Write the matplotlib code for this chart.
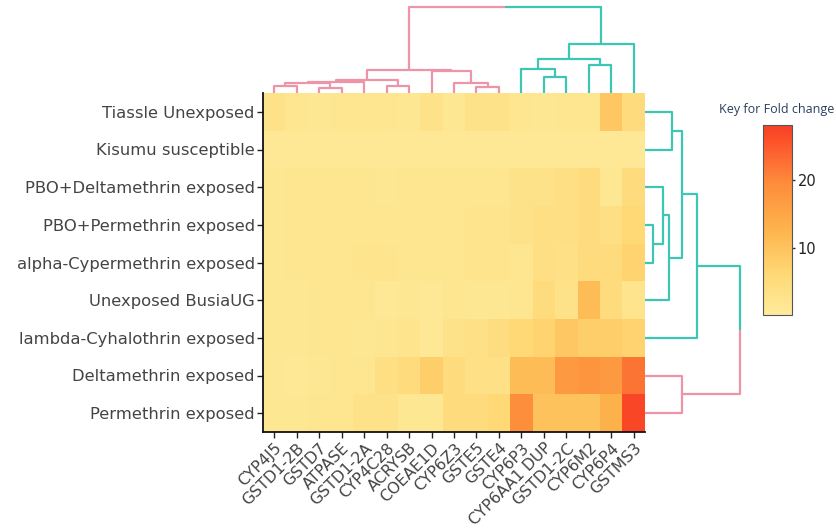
import numpy as np
import matplotlib
matplotlib.use('Agg')
import matplotlib.pyplot as plt
from matplotlib.colors import LinearSegmentedColormap

# Data
genes = ['CYP4J5', 'GSTD1-2B', 'GSTD7', 'ATPASE', 'GSTD1-2A', 'CYP4C28', 'ACRYSB',
         'COEAE1D', 'CYP6Z3', 'GSTE5', 'GSTE4', 'CYP6P3', 'CYP6AA1 DUP', 'GSTD1-2C',
         'CYP6M2', 'CYP6P4', 'GSTMS3']
samples = ['Tiassle Unexposed', 'Kisumu susceptible', 'PBO+Deltamethrin exposed',
           'PBO+Permethrin exposed', 'alpha-Cypermethrin exposed', 'Unexposed BusiaUG',
           'lambda-Cyhalothrin exposed', 'Deltamethrin exposed', 'Permethrin exposed']

tiassle   = [3.0, 2.0, 1.5, 2.0, 2.0, 2.0, 1.5, 3.0, 1.5, 3.0, 3.0, 2.0, 1.5, 2.0, 2.0, 9.0, 5.0]
kisumu    = [1.0] * 17
pbo_delta = [1.5, 2.0, 1.8, 2.0, 2.0, 1.3, 1.8, 1.8, 1.8, 2.0, 2.0, 3.0, 3.0, 4.0, 5.0, 1.5, 5.0]
pbo_perm  = [1.5, 2.0, 1.8, 2.0, 2.0, 1.8, 1.8, 1.8, 2.0, 2.5, 2.5, 3.0, 4.0, 4.0, 5.0, 4.0, 6.0]
alpha_cyp = [1.5, 1.8, 1.8, 2.0, 2.5, 2.5, 2.0, 2.0, 2.0, 2.5, 2.5, 1.8, 4.0, 3.5, 5.0, 5.0, 7.0]
busia     = [1.5, 1.5, 2.0, 2.0, 2.0, 1.2, 1.5, 1.2, 1.8, 1.5, 1.5, 2.0, 5.0, 3.0, 11.0, 5.0, 2.5]
lambda_cy = [1.5, 1.5, 2.0, 2.0, 1.5, 2.0, 2.5, 1.2, 3.0, 3.5, 4.5, 6.0, 7.0, 9.0, 8.0, 8.0, 7.0]
delta     = [1.5, 1.2, 1.5, 1.8, 2.0, 4.0, 5.0, 8.0, 5.0, 3.5, 3.5, 11.0, 11.0, 17.0, 18.0, 17.0, 22.0]
perm      = [1.5, 1.3, 2.0, 2.0, 3.0, 3.0, 1.5, 1.5, 5.0, 5.0, 6.0, 19.0, 10.0, 10.0, 10.0, 13.0, 27.0]

# linkage: (child a, child b, height) - new cluster ids start after the leaves
col_merges = [(0, 1, 7.0), (2, 3, 5.0), (5, 6, 7.5), (9, 10, 5.7), (17, 18, 10.3),
              (21, 4, 11.5), (22, 19, 12.7), (8, 20, 10.3), (7, 24, 21.7), (23, 25, 23.2),
              (12, 13, 15.7), (11, 27, 23.7), (14, 15, 28.0), (28, 29, 34.0), (30, 16, 49.0),
              (26, 31, 85.7)]
col_groups = [0] * 11 + [1] * 6
row_merges = [(3, 4, 8.0), (2, 9, 17.7), (10, 5, 24.3), (0, 1, 26.7), (12, 11, 36.7),
              (13, 6, 52.3), (7, 8, 37.3), (14, 15, 95.0)]
row_groups = [1] * 7 + [0] * 2

PINK = '#EE94A9'
TEAL = '#3CC6B3'

data = np.array([tiassle, kisumu, pbo_delta, pbo_perm, alpha_cyp, busia, lambda_cy, delta, perm])

ylorrd = plt.get_cmap('YlOrRd')
cmap = LinearSegmentedColormap.from_list('fold', ylorrd(np.linspace(0.14, 0.66, 256)))


def draw_dendro(ax, n, merges, groups, colors, orient):
    pos = {i: i + 0.5 for i in range(n)}
    hgt = {i: 0.0 for i in range(n)}
    grp = {i: groups[i] for i in range(n)}
    for k, (a, b, h) in enumerate(merges):
        cid = n + k
        pa, pb = pos[a], pos[b]
        last = k == len(merges) - 1
        segs = []
        if last:
            mid = (pa + pb) / 2
            segs.append(([pa, pa, mid], [hgt[a], h, h], colors[grp[a]]))
            segs.append(([pb, pb, mid], [hgt[b], h, h], colors[grp[b]]))
        else:
            c = colors[grp[a]]
            segs.append(([pa, pa, pb, pb], [hgt[a], h, h, hgt[b]], c))
        for xs, ys, c in segs:
            if orient == 'top':
                ax.plot(xs, ys, color=c, lw=1.6, solid_capstyle='butt')
            else:
                ax.plot(ys, xs, color=c, lw=1.6, solid_capstyle='butt')
        pos[cid] = (pa + pb) / 2
        hgt[cid] = h
        grp[cid] = grp[a]


W, H = 836, 531
fig = plt.figure(figsize=(W / 100, H / 100), dpi=100)

hm_l, hm_r, hm_t, hm_b = 263, 645, 93, 432
ax = fig.add_axes([hm_l / W, 1 - hm_b / H, (hm_r - hm_l) / W, (hm_b - hm_t) / H])
im = ax.imshow(data, aspect='auto', cmap=cmap, vmin=0.2, vmax=28,
               interpolation='nearest', extent=(0, len(genes), len(samples), 0))
ax.set_xticks(np.arange(len(genes)) + 0.5)
ax.set_xticklabels(genes, rotation=45, ha='right', rotation_mode='anchor',
                   fontsize=11.3, color='#444444')
ax.set_yticks(np.arange(len(samples)) + 0.5)
ax.set_yticklabels(samples, fontsize=11.8, color='#444444')
ax.tick_params(length=4, width=1, color='#222222', pad=2)
for s in ['top', 'right']:
    ax.spines[s].set_visible(False)
for s in ['left', 'bottom']:
    ax.spines[s].set_linewidth(1.3)
    ax.spines[s].set_color('#111111')

# column dendrogram
axc = fig.add_axes([hm_l / W, 1 - hm_t / H, (hm_r - hm_l) / W, hm_t / H])
draw_dendro(axc, len(genes), col_merges, col_groups, [PINK, TEAL], 'top')
axc.set_xlim(0, len(genes))
axc.set_ylim(0, hm_t)
axc.axis('off')

# row dendrogram
axr = fig.add_axes([hm_r / W, 1 - hm_b / H, 110 / W, (hm_b - hm_t) / H])
draw_dendro(axr, len(samples), row_merges, row_groups, [PINK, TEAL], 'right')
axr.set_ylim(len(samples), 0)
axr.set_xlim(0, 110)
axr.axis('off')

# colour key
cax = fig.add_axes([763 / W, 1 - 315 / H, 29 / W, 190 / H])
cb = fig.colorbar(im, cax=cax, ticks=[10, 20])
cb.outline.set_edgecolor('#555555')
cb.outline.set_linewidth(0.8)
cax.tick_params(labelsize=10.5, length=2, width=1, color='#333333', pad=2, labelcolor='#222222')
fig.text(777 / W, 1 - 110 / H, 'Key for Fold change', ha='center', va='center',
         fontsize=9, color='#2a3f5f', family='Open Sans')

fig.savefig('out.png', dpi=100)
